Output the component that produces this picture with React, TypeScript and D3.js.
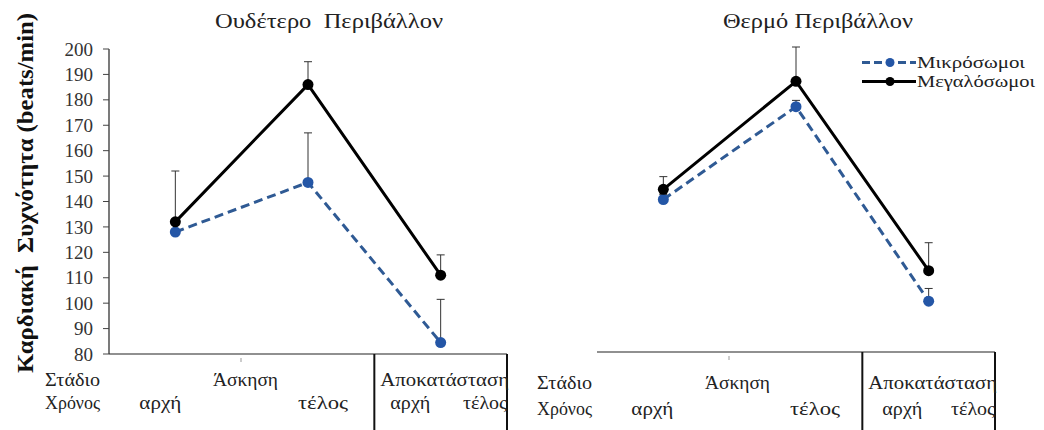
import React from 'react';
import * as d3 from 'd3';

// values (beats/min)
const points = ['Άσκηση αρχή', 'Άσκηση τέλος', 'Αποκατάσταση αρχή'];
const neutralSmall = [128, 147.5, 84.5];
const neutralSmallErr = [128, 167, 101.5];
const neutralLarge = [132, 186, 111];
const neutralLargeErr = [152, 195, 119];
const hotSmall = [140, 176.5, 100];
const hotSmallErr = [142, 179, 105];
const hotLarge = [144, 186.5, 112];
const hotLargeErr = [149, 200, 123];
const yTicks = [80, 90, 100, 110, 120, 130, 140, 150, 160, 170, 180, 190, 200];
const seriesNames = ['Μικρόσωμοι', 'Μεγαλόσωμοι'];

const BLUE = '#2f5a94';
const BLUE_DOT = '#2456a6';
const FONT = 'Liberation Serif';

const W = 1044;
const H = 430;

const y = d3.scaleLinear().domain([80, 200]).range([354, 49]);

type PanelProps = {
  dx: number;
  dy: number;
  small: number[];
  smallErr: number[];
  large: number[];
  largeErr: number[];
  showAxis: boolean;
  row1: number;
  row2: number;
  ldx: number;
};

const Panel: React.FC<PanelProps> = ({ dx, dy, small, smallErr, large, largeErr, showAxis, row1, row2, ldx }) => {
  const x = d3.scaleBand<string>().domain(points).range([109, 507]);
  const cx = (i: number) => x(points[i])! + x.bandwidth() / 2;
  const line = d3.line<number>().x((_, i) => cx(i)).y(d => y(d));
  const base = y(80);
  const split = x(points[2])!;
  const end = 507;

  const errBar = (vals: number[], tops: number[], key: string) =>
    vals.map((v, i) => (
      <g key={key + i} stroke="#333" strokeWidth={1}>
        <line x1={cx(i)} x2={cx(i)} y1={y(v)} y2={y(tops[i])} />
        <line x1={cx(i) - 4} x2={cx(i) + 4} y1={y(tops[i])} y2={y(tops[i])} />
      </g>
    ));

  return (
    <g transform={`translate(${dx},${dy})`} fontFamily={FONT}>
      {showAxis && (
        <g>
          <line x1={109} x2={109} y1={y(200)} y2={base} stroke="#222" strokeWidth={1.2} />
          {yTicks.map(t => (
            <g key={t}>
              <line x1={103} x2={109} y1={y(t)} y2={y(t)} stroke="#444" strokeWidth={1} />
              <text x={93} y={y(t)} dy="0.35em" textAnchor="end" fontSize={19} fill="#333">
                {t}
              </text>
            </g>
          ))}
        </g>
      )}
      {/* x axis and stage separators */}
      <line x1={109} x2={end} y1={base} y2={base} stroke="#222" strokeWidth={1.2} />
      <line x1={split} x2={split} y1={base} y2={H + 5} stroke="#111" strokeWidth={2} />
      <line x1={end} x2={end} y1={base} y2={H + 5} stroke="#111" strokeWidth={2} />
      <line x1={241} x2={241} y1={base + 4} y2={base + 8} stroke="#bbb" strokeWidth={1.5} />

      {errBar(small, smallErr, 's')}
      {errBar(large, largeErr, 'l')}

      <path d={line(small)!} fill="none" stroke={BLUE} strokeWidth={3} strokeDasharray="9,5" />
      <path d={line(large)!} fill="none" stroke="#000" strokeWidth={3} />
      {small.map((v, i) => (
        <circle key={'sc' + i} cx={cx(i)} cy={y(v)} r={5.5} fill={BLUE_DOT} />
      ))}
      {large.map((v, i) => (
        <circle key={'lc' + i} cx={cx(i)} cy={y(v)} r={5.5} fill="#000" />
      ))}

      {/* category labels */}
      <g fontSize={18} fill="#222" transform={`translate(${ldx},0)`}>
        <text x={45} y={row1} textLength={55} lengthAdjust="spacingAndGlyphs">Στάδιο</text>
        <text x={213} y={row1} textLength={65} lengthAdjust="spacingAndGlyphs">Άσκηση</text>
        <text x={split + 6 - ldx} y={row1} textLength={end - split - 4} lengthAdjust="spacingAndGlyphs">Αποκατάσταση</text>
        <text x={45} y={row2} textLength={55} lengthAdjust="spacingAndGlyphs">Χρόνος</text>
        <text x={cx(0) - 36} y={row2} textLength={42} lengthAdjust="spacingAndGlyphs">αρχή</text>
        <text x={cx(1) - 10} y={row2} textLength={50} lengthAdjust="spacingAndGlyphs">τέλος</text>
        <text x={split + 16} y={row2} textLength={40} lengthAdjust="spacingAndGlyphs">αρχή</text>
        <text x={end - 44 - ldx} y={row2} textLength={44} lengthAdjust="spacingAndGlyphs">τέλος</text>
      </g>
    </g>
  );
};

const App: React.FC = () => {
  return (
    <svg width={W} height={H} style={{ display: 'block', position: 'absolute', left: 0, top: 0, background: '#fff' }}>
      <rect width={W} height={H} fill="#fff" />
      <Panel dx={0} dy={0} small={neutralSmall} smallErr={neutralSmallErr} large={neutralLarge}
        largeErr={neutralLargeErr} showAxis row1={386} row2={409} ldx={0} />
      <Panel dx={488} dy={-2} small={hotSmall} smallErr={hotSmallErr} large={hotLarge}
        largeErr={hotLargeErr} showAxis={false} row1={391} row2={417} ldx={4} />

      <g fontFamily={FONT} fill="#222">
        <text x={215} y={28} fontSize={20} textLength={228} lengthAdjust="spacingAndGlyphs"
          style={{ whiteSpace: 'pre' }}>Ουδέτερο  Περιβάλλον</text>
        <text x={723} y={28} fontSize={20} textLength={190} lengthAdjust="spacingAndGlyphs">Θερμό Περιβάλλον</text>
        <text transform="translate(33,373) rotate(-90)" fontSize={24} textLength={360}
          lengthAdjust="spacingAndGlyphs" fontWeight="bold" fill="#111" style={{ whiteSpace: 'pre' }}>
          Καρδιακή  Συχνότητα (beats/min)
        </text>
      </g>

      {/* legend */}
      <g fontFamily={FONT} fontSize={17} fill="#222">
        <line x1={862} x2={916} y1={62.5} y2={62.5} stroke={BLUE} strokeWidth={3} strokeDasharray="8,4" />
        <circle cx={890} cy={62.5} r={4.5} fill={BLUE_DOT} />
        <text x={917} y={62.5} dy="0.35em" textLength={108} lengthAdjust="spacingAndGlyphs">{seriesNames[0]}</text>
        <line x1={862} x2={916} y1={81.5} y2={81.5} stroke="#000" strokeWidth={3} />
        <circle cx={890} cy={81.5} r={4.5} fill="#000" />
        <text x={917} y={81.5} dy="0.35em" textLength={118} lengthAdjust="spacingAndGlyphs">{seriesNames[1]}</text>
      </g>
    </svg>
  );
};

export default App;
